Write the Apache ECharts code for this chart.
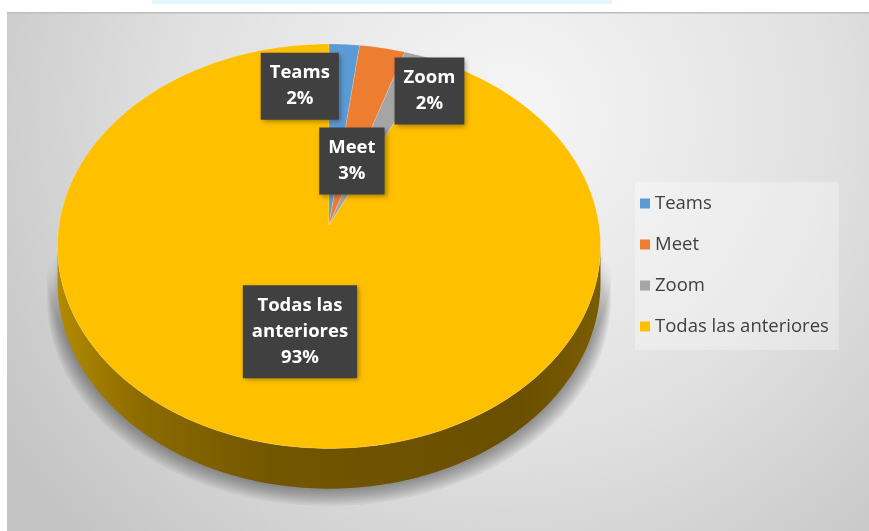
<!DOCTYPE html>
<html>
<head>
<meta charset="utf-8">
<script src="https://cdn.jsdelivr.net/npm/echarts@6/dist/echarts.min.js"></script>
<style>
  html, body { margin: 0; padding: 0; background: #fff; }
  #chart { width: 869px; height: 531px; }
</style>
</head>
<body>
<div id="chart"></div>
<script>
// data
const categories = ['Teams', 'Meet', 'Zoom', 'Todas las anteriores'];
const values = [2, 3, 2, 93];
const labelNames = ['Teams', 'Meet', 'Zoom', 'Todas las\nanteriores'];
const colors = ['#5B9BD5', '#ED7D31', '#A5A5A5', '#FFC000'];

// layout of the tilted pie (perspective ellipse)
const PIE = { cx: 329, cy: 225, rx: 270, ry: 200, persp: 0.105, depth: 36 };
// where each label box sits: fraction of radius + small nudge
const labelPlace = [
  { f: 0.75, dx: -41, dy: 0 },
  { f: 0.35, dx: 3, dy: 2 },
  { f: 0.75, dx: 31, dy: -4 },
  { f: 0.5, dx: 2, dy: 4 }
];

const total = values.reduce((a, b) => a + b, 0);
const startAngle = [];
let acc = 0;
values.forEach(v => { startAngle.push(acc / total * Math.PI * 2); acc += v; });
const endAngle = values.map((v, i) => startAngle[i] + v / total * Math.PI * 2);

// project a point on the pie top (angle clockwise from 12 o'clock)
const project = (theta, f) => {
  const s = 1 / (1 + PIE.persp * f * Math.cos(theta));
  return [PIE.cx + f * PIE.rx * Math.sin(theta) * s, PIE.cy - f * PIE.ry * Math.cos(theta) * s, s];
};

const arc = (a, b) => {
  const pts = [];
  const n = Math.max(2, Math.ceil((b - a) / (Math.PI / 180)));
  for (let k = 0; k <= n; k++) pts.push(project(a + (b - a) * k / n, 1));
  return pts;
};

// side wall only shows on the near half
const visFrom = Math.acos(-PIE.persp);
const visTo = Math.PI * 2 - visFrom;

const wallGradient = new echarts.graphic.LinearGradient(PIE.cx - PIE.rx, 0, PIE.cx + PIE.rx, 0, [
  { offset: 0, color: '#b38a00' },
  { offset: 0.15, color: '#8c6b00' },
  { offset: 0.4, color: '#725600' },
  { offset: 0.85, color: '#6a4f00' },
  { offset: 1, color: '#7a5c00' }
], true);

const renderSlice = i => (params, api) => {
  const children = [];
  const a = Math.max(startAngle[i], visFrom);
  const b = Math.min(endAngle[i], visTo);
  if (a < b) {
    const top = arc(a, b);
    const bottom = top.map(p => [p[0], p[1] + PIE.depth * p[2]]).reverse();
    const wallPts = top.map(p => [p[0], p[1]]).concat(bottom);
    // soft drop shadow: stacked faint layers spreading outward
    for (let k = 9; k >= 1; k--) {
      const sx = 1 + 0.0042 * k;
      children.push({
        type: 'polygon',
        z2: 0,
        shape: { points: wallPts.map(p => [PIE.cx + (p[0] - PIE.cx) * sx, p[1] + 1.9 * k]) },
        style: { fill: 'rgba(40,40,40,0.055)' }
      });
    }
    children.push({
      type: 'polygon',
      z2: 1,
      shape: { points: wallPts },
      style: { fill: wallGradient }
    });
  }
  const face = [[PIE.cx, PIE.cy]].concat(arc(startAngle[i], endAngle[i]).map(p => [p[0], p[1]]));
  children.push({
    type: 'polygon',
    z2: 2,
    shape: { points: face },
    style: { fill: colors[i], stroke: 'rgba(255,255,255,0.35)', lineWidth: 0.5 }
  });
  return { type: 'group', children };
};

const renderLabel = (params, api) => {
  const i = params.dataIndex;
  const mid = (startAngle[i] + endAngle[i]) / 2;
  const lp = labelPlace[i];
  const p = project(mid, lp.f);
  const pct = Math.round(values[i] / total * 100) + '%';
  return {
    type: 'text',
    x: p[0] + lp.dx,
    y: p[1] + lp.dy,
    style: {
      text: labelNames[i] + '\n' + pct,
      fill: '#ffffff',
      font: 'bold 18.5px "Open Sans"',
      align: 'center',
      verticalAlign: 'middle',
      lineHeight: 26,
      backgroundColor: '#404040',
      padding: [8, 9, 7, 9],
      shadowBlur: 5,
      shadowOffsetX: 2,
      shadowOffsetY: 2,
      shadowColor: 'rgba(0,0,0,0.35)'
    }
  };
};

const drawOrder = [3, 0, 1, 2];
const series = drawOrder.map(i => ({
  type: 'custom',
  name: categories[i],
  coordinateSystem: 'none',
  silent: true,
  z: i === 3 ? 2 : 3,
  itemStyle: { color: colors[i] },
  data: [[values[i]]],
  renderItem: renderSlice(i)
}));
series.push({
  type: 'custom',
  name: 'labels',
  coordinateSystem: 'none',
  silent: true,
  z: 10,
  data: values.map(v => [v]),
  renderItem: renderLabel
});

const chart = echarts.init(document.getElementById('chart'));
chart.setOption({
  animation: false,
  graphic: [
    { type: 'rect', z: -10, shape: { x: 152, y: 0, width: 460, height: 4 }, style: { fill: '#e4f5fb' } },
    {
      type: 'rect', z: -10,
      shape: { x: 7, y: 12, width: 862, height: 519 },
      style: {
        fill: new echarts.graphic.RadialGradient(0.58, 0.2, 1.15, [
          { offset: 0, color: '#f6f6f6' },
          { offset: 0.55, color: '#e0e0e0' },
          { offset: 1, color: '#c4c4c4' }
        ])
      }
    },
    { type: 'rect', z: -9, shape: { x: 7, y: 12, width: 862, height: 1.5 }, style: { fill: '#bdbdbd' } }
  ],
  legend: {
    data: categories,
    orient: 'vertical',
    left: 635,
    top: 182,
    icon: 'rect',
    itemWidth: 10,
    itemHeight: 10,
    itemGap: 22,
    itemTextGap: 6,
    padding: [12, 10, 14, 5],
    backgroundColor: 'rgba(255,255,255,0.3)',
    textStyle: { fontSize: 18.5, color: '#404040', fontFamily: 'Open Sans' }
  },
  series
});
</script>
</body>
</html>
